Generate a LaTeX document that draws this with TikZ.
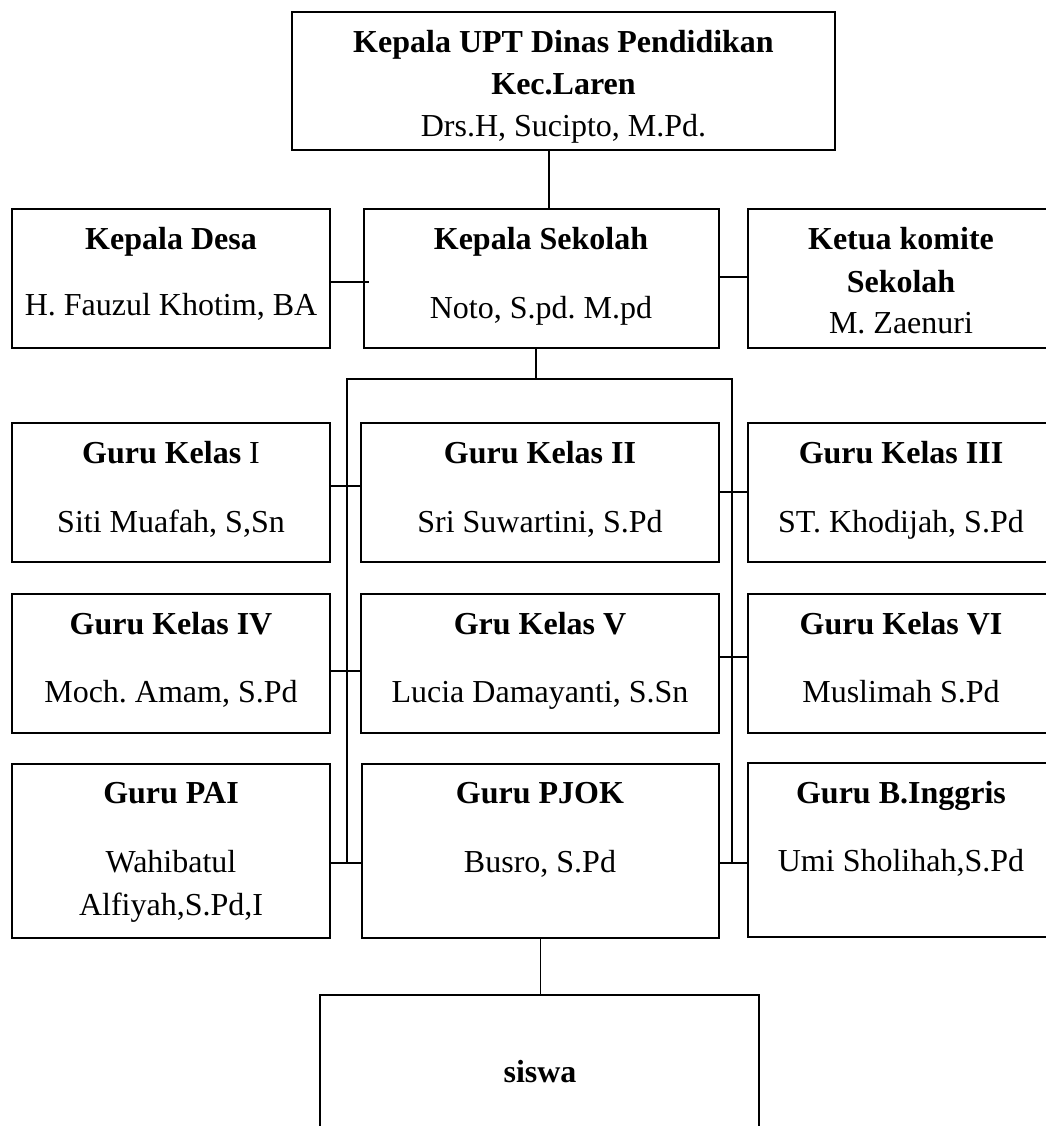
\documentclass[tikz,border=0pt]{standalone}
\usepackage{fontspec}
\setmainfont{Liberation Serif}
\frenchspacing
\begin{document}
\begin{tikzpicture}[x=1pt,y=-1pt,
  box/.style={draw, line width=1.8pt, rectangle, inner sep=0pt, outer sep=0pt, anchor=north west},
  conn/.style={line width=1.5pt},
  txt/.style={anchor=base, inner sep=0pt, font=\fontsize{32}{32}\selectfont},
  btxt/.style={anchor=base, inner sep=0pt, font=\fontsize{32}{32}\selectfont\bfseries}]
\useasboundingbox (0,0) rectangle (1045,1126);
% boxes
\node[box, minimum width=543, minimum height=138] (top) at (292,12) {};
\node[box, minimum width=318, minimum height=139] (desa) at (12,209) {};
\node[box, minimum width=355, minimum height=139] (sekolah) at (364,209) {};
\node[box, minimum width=320, minimum height=139] (komite) at (748,209) {};
\node[box, minimum width=318, minimum height=139] (g1) at (12,423) {};
\node[box, minimum width=358, minimum height=139] (g2) at (361,423) {};
\node[box, minimum width=320, minimum height=139] (g3) at (748,423) {};
\node[box, minimum width=318, minimum height=139] (g4) at (12,594) {};
\node[box, minimum width=358, minimum height=139] (g5) at (361,594) {};
\node[box, minimum width=320, minimum height=139] (g6) at (748,594) {};
\node[box, minimum width=318, minimum height=174] (pai) at (12,764) {};
\node[box, minimum width=357, minimum height=174] (pjok) at (362,764) {};
\node[box, minimum width=320, minimum height=174] (ingg) at (748,763) {};
\node[box, minimum width=439, minimum height=170] (siswa) at (320,995) {};
% texts
\node[btxt] (t1) at (563.5,53) {Kepala UPT Dinas Pendidikan};
\node[btxt] (t2) at (563.5,95) {Kec.Laren};
\node[txt]  (t3) at (563.5,137) {Drs.H, Sucipto, M.Pd.};
\node[btxt] (d1) at (171,249) {Kepala Desa};
\node[txt]  (d2) at (171,315) {H. Fauzul Khotim, BA};
\node[btxt] (s1) at (541,249) {Kepala Sekolah};
\node[txt]  (s2) at (541,318) {Noto, S.pd. M.pd};
\node[btxt] (k1) at (901,249) {Ketua komite};
\node[btxt] (k2) at (901,292) {Sekolah};
\node[txt]  (k3) at (901,333) {M. Zaenuri};
\node[txt]  (a1) at (171,463) {\textbf{Guru Kelas} I};
\node[txt]  (a2) at (171,532) {Siti Muafah, S,Sn};
\node[btxt] (b1) at (540,463) {Guru Kelas II};
\node[txt]  (b2) at (540,532) {Sri Suwartini, S.Pd};
\node[btxt] (c1) at (901,463) {Guru Kelas III};
\node[txt]  (c2) at (901,532) {ST. Khodijah, S.Pd};
\node[btxt] (e1) at (171,634) {Guru Kelas IV};
\node[txt]  (e2) at (171,702) {Moch. Amam, S.Pd};
\node[btxt] (f1) at (540,634) {Gru Kelas V};
\node[txt]  (f2) at (540,702) {Lucia Damayanti, S.Sn};
\node[btxt] (h1) at (901,634) {Guru Kelas VI};
\node[txt]  (h2) at (901,702) {Muslimah S.Pd};
\node[btxt] (p1) at (171,803) {Guru PAI};
\node[txt]  (p2) at (171,872) {Wahibatul};
\node[txt]  (p3) at (171,915) {Alfiyah,S.Pd,I};
\node[btxt] (j1) at (540,803) {Guru PJOK};
\node[txt]  (j2) at (540,872) {Busro, S.Pd};
\node[btxt] (i1) at (901,803) {Guru B.Inggris};
\node[txt]  (i2) at (901,871) {Umi Sholihah,S.Pd};
\node[btxt] (w1) at (540,1082) {siswa};
% helper coordinates
\coordinate (xa) at (549,0);
\coordinate (ya) at (0,282);
\coordinate (yb) at (0,277);
\coordinate (bus) at (536,379);
\coordinate (bl) at (347,379);
\coordinate (br) at (732,379);
\coordinate (blb) at (347,863);
\coordinate (brb) at (732,863);
\coordinate (y1) at (0,486);
\coordinate (y2) at (0,492);
\coordinate (y3) at (0,671);
\coordinate (y4) at (0,657);
\coordinate (y5) at (0,863);
% connectors
\draw[conn] (top.south -| xa) -- (sekolah.north -| xa);
\draw[conn] (desa.east |- ya) -- ([xshift=5pt]sekolah.west |- ya);
\draw[conn] (sekolah.east |- yb) -- (komite.west |- yb);
\draw[conn] (sekolah.south -| bus) -- (bus);
\draw[conn] (blb) -- (bl) -- (br) -- (brb);
\draw[conn] (g1.east |- y1) -- (g2.west |- y1);
\draw[conn] (g2.east |- y2) -- (g3.west |- y2);
\draw[conn] (g4.east |- y3) -- (g5.west |- y3);
\draw[conn] (g5.east |- y4) -- (g6.west |- y4);
\draw[conn] (pai.east |- y5) -- (pjok.west |- y5);
\draw[conn] (pjok.east |- y5) -- (ingg.west |- y5);
\draw[conn] (pjok.south) -- (pjok.south |- siswa.north);
\end{tikzpicture}
\end{document}
